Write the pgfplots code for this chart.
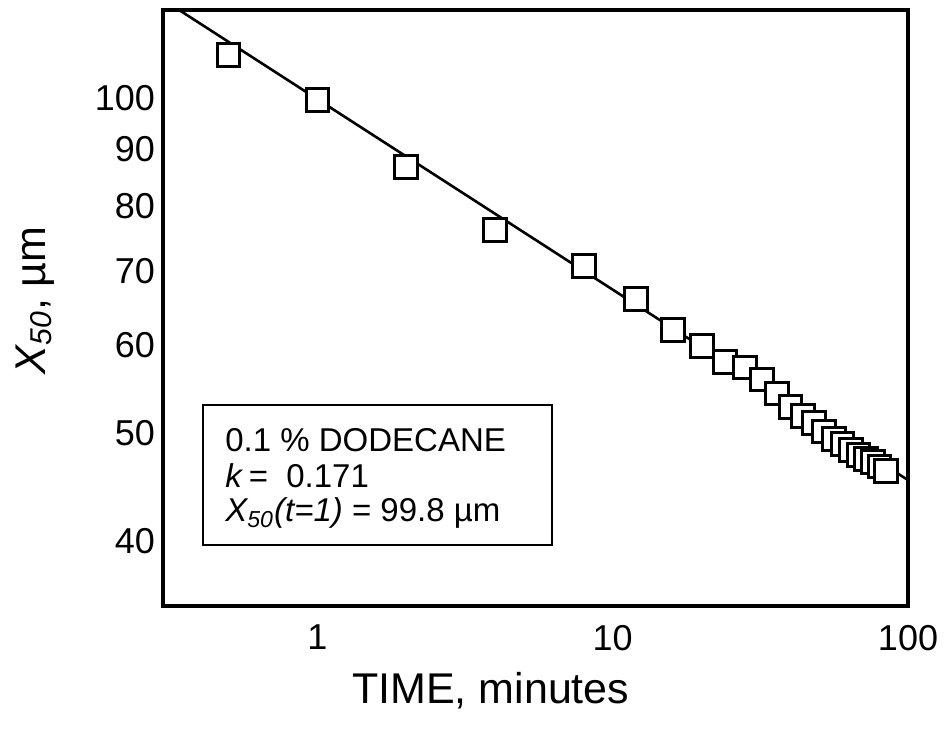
\documentclass[border=0pt]{standalone}
\usepackage{pgfplots}
\pgfplotsset{compat=1.18}
\usepackage{pgfplotstable}
\usepackage{fontspec}
\setmainfont{Liberation Sans}

\pgfplotstableread{
t X
0.5 109.3
1 99.6
2 86.8
4 76.2
8 70.7
12 66.0
16 61.9
20 59.9
24 58.0
28 57.3
32 55.9
36 54.3
40 52.8
44 51.8
48 51.1
52 50.2
56 49.4
60 48.9
64 48.3
68 47.8
72 47.4
76 47.1
80 46.7
84 46.3
}\datatable

\begin{document}
\begin{tikzpicture}
\path[use as bounding box] (-81.5pt,-63.5pt) rectangle (391.5pt,303pt);
\begin{axis}[
  at={(0,0)}, anchor=south west,
  scale only axis, width=372.5pt, height=298pt,
  xmode=log, ymode=log,
  xmin=0.3, xmax=100, ymin=35, ymax=120,
  xtick={1,10,100}, xticklabels={1,10,100},
  ytick={40,50,60,70,80,90,100}, yticklabels={40,50,60,70,80,90,100},
  minor xtick={}, minor ytick={},
  major tick length=0pt, minor tick length=0pt,
  tick style={draw=none},
  axis line style={line width=2pt},
  /pgf/number format/assume math mode=true,
  ticklabel style={font=\fontsize{18}{21}\selectfont},
  yticklabel style={xshift=-0.5pt},
  xticklabel style={yshift=-6pt},
  xlabel={TIME, minutes},
  ylabel={{\itshape X\textsubscript{50}}, µm},
  xlabel style={at={(axis description cs:0.44,-0.1644)}, anchor=base, font=\fontsize{21.5}{25}\selectfont},
  ylabel style={at={(axis description cs:-0.172,0.513)}, anchor=center, font=\fontsize{21.5}{25}\selectfont},
  clip=true,
]
\addplot[black, line width=1.3pt] coordinates {(0.3,122.6) (100,45.4)};
\addplot[only marks, mark=square*, mark size=5.7pt,
  mark options={fill=white, draw=black, line width=1.5pt}] table[x=t, y=X] {\datatable};
\draw[line width=1pt] (rel axis cs:0.0537,0.102) rectangle (rel axis cs:0.522,0.337);
\node[anchor=base west, inner sep=0pt, font=\fontsize{16.5}{19}\selectfont] at (rel axis cs:0.0832,0.2584) {0.1 \% DODECANE};
\node[anchor=base west, inner sep=0pt, font=\fontsize{16.5}{19}\selectfont] at (rel axis cs:0.0832,0.198) {\textit{k}\,=\ \ 0.171};
\node[anchor=base west, inner sep=0pt, font=\fontsize{16.5}{19}\selectfont] at (rel axis cs:0.0832,0.141) {{\itshape X\textsubscript{50}(t=1)} = 99.8 µm};
\end{axis}
\end{tikzpicture}
\end{document}
